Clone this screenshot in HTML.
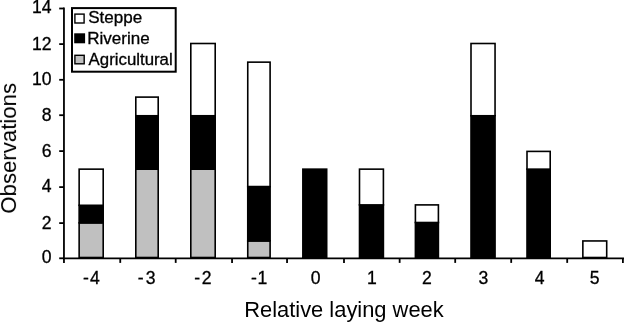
<!DOCTYPE html>
<html><head><meta charset="utf-8"><title>Observations by relative laying week</title>
<style>
html,body{margin:0;padding:0;background:#fff;}
svg{display:block;}
text{font-family:"Liberation Sans",Arial,sans-serif;fill:#000;stroke:#000;stroke-width:0.3;}
</style></head><body>
<svg width="624" height="322" viewBox="0 0 624 322">
<defs><filter id="soft" x="0" y="0" width="624" height="322" filterUnits="userSpaceOnUse"><feGaussianBlur stdDeviation="0.35"/></filter><filter id="soft2" x="0" y="0" width="624" height="322" filterUnits="userSpaceOnUse"><feGaussianBlur stdDeviation="0.25"/></filter></defs>
<rect width="624" height="322" fill="#fff"/>
<g filter="url(#soft)">
<rect x="-5" y="-5" width="634" height="332" fill="#fff"/>
<rect x="79.15" y="222.85" width="24.05" height="34.65" fill="#c0c0c0" stroke="#000" stroke-width="1.6"/>
<rect x="79.15" y="205.30" width="24.05" height="17.55" fill="#000" stroke="#000" stroke-width="1.6"/>
<rect x="79.15" y="169.15" width="24.05" height="36.15" fill="#fff" stroke="#000" stroke-width="1.6"/>
<rect x="135.80" y="169.15" width="22.40" height="88.35" fill="#c0c0c0" stroke="#000" stroke-width="1.6"/>
<rect x="135.80" y="115.75" width="22.40" height="53.40" fill="#000" stroke="#000" stroke-width="1.6"/>
<rect x="135.80" y="97.10" width="22.40" height="18.65" fill="#fff" stroke="#000" stroke-width="1.6"/>
<rect x="190.80" y="169.15" width="24.40" height="88.35" fill="#c0c0c0" stroke="#000" stroke-width="1.6"/>
<rect x="190.80" y="115.75" width="24.40" height="53.40" fill="#000" stroke="#000" stroke-width="1.6"/>
<rect x="190.80" y="43.50" width="24.40" height="72.25" fill="#fff" stroke="#000" stroke-width="1.6"/>
<rect x="247.75" y="240.95" width="22.35" height="16.55" fill="#c0c0c0" stroke="#000" stroke-width="1.6"/>
<rect x="247.75" y="186.55" width="22.35" height="54.40" fill="#000" stroke="#000" stroke-width="1.6"/>
<rect x="247.75" y="62.15" width="22.35" height="124.40" fill="#fff" stroke="#000" stroke-width="1.6"/>
<rect x="302.85" y="169.15" width="23.85" height="88.35" fill="#000" stroke="#000" stroke-width="1.6"/>
<rect x="359.50" y="204.90" width="23.90" height="52.60" fill="#000" stroke="#000" stroke-width="1.6"/>
<rect x="359.50" y="169.15" width="23.90" height="35.75" fill="#fff" stroke="#000" stroke-width="1.6"/>
<rect x="415.40" y="222.50" width="23.00" height="35.00" fill="#000" stroke="#000" stroke-width="1.6"/>
<rect x="415.40" y="204.90" width="23.00" height="17.60" fill="#fff" stroke="#000" stroke-width="1.6"/>
<rect x="471.00" y="115.75" width="24.05" height="141.75" fill="#000" stroke="#000" stroke-width="1.6"/>
<rect x="471.00" y="43.50" width="24.05" height="72.25" fill="#fff" stroke="#000" stroke-width="1.6"/>
<rect x="527.00" y="169.15" width="23.20" height="88.35" fill="#000" stroke="#000" stroke-width="1.6"/>
<rect x="527.00" y="151.40" width="23.20" height="17.75" fill="#fff" stroke="#000" stroke-width="1.6"/>
<rect x="582.85" y="240.95" width="23.85" height="16.55" fill="#fff" stroke="#000" stroke-width="1.6"/>
<line x1="63.95" y1="7.6" x2="63.95" y2="259.20" stroke="#000" stroke-width="1.8"/>
<line x1="63.05" y1="258.3" x2="624" y2="258.3" stroke="#000" stroke-width="1.8"/>
<line x1="59.2" y1="258.30" x2="63.95" y2="258.30" stroke="#000" stroke-width="1.8"/>
<text transform="translate(51.50,263.40)" font-size="17.6" text-anchor="end">0</text>
<line x1="59.2" y1="223.10" x2="63.95" y2="223.10" stroke="#000" stroke-width="1.8"/>
<text transform="translate(51.50,229.00)" font-size="17.6" text-anchor="end">2</text>
<line x1="59.2" y1="187.10" x2="63.95" y2="187.10" stroke="#000" stroke-width="1.8"/>
<text transform="translate(51.50,192.40)" font-size="17.6" text-anchor="end">4</text>
<line x1="59.2" y1="151.10" x2="63.95" y2="151.10" stroke="#000" stroke-width="1.8"/>
<text transform="translate(51.50,156.60)" font-size="17.6" text-anchor="end">6</text>
<line x1="59.2" y1="115.20" x2="63.95" y2="115.20" stroke="#000" stroke-width="1.8"/>
<text transform="translate(51.50,120.95)" font-size="17.6" text-anchor="end">8</text>
<line x1="59.2" y1="79.80" x2="63.95" y2="79.80" stroke="#000" stroke-width="1.8"/>
<text transform="translate(51.50,85.20)" font-size="17.6" text-anchor="end">10</text>
<line x1="59.2" y1="44.10" x2="63.95" y2="44.10" stroke="#000" stroke-width="1.8"/>
<text transform="translate(51.50,49.50)" font-size="17.6" text-anchor="end">12</text>
<line x1="59.2" y1="8.50" x2="63.95" y2="8.50" stroke="#000" stroke-width="1.8"/>
<text transform="translate(51.50,13.40)" font-size="17.6" text-anchor="end">14</text>
<line x1="63.95" y1="258.3" x2="63.95" y2="262.90" stroke="#000" stroke-width="1.8"/>
<line x1="120.25" y1="258.3" x2="120.25" y2="262.90" stroke="#000" stroke-width="1.8"/>
<line x1="175.70" y1="258.3" x2="175.70" y2="262.90" stroke="#000" stroke-width="1.8"/>
<line x1="232.05" y1="258.3" x2="232.05" y2="262.90" stroke="#000" stroke-width="1.8"/>
<line x1="287.05" y1="258.3" x2="287.05" y2="262.90" stroke="#000" stroke-width="1.8"/>
<line x1="344.00" y1="258.3" x2="344.00" y2="262.90" stroke="#000" stroke-width="1.8"/>
<line x1="399.65" y1="258.3" x2="399.65" y2="262.90" stroke="#000" stroke-width="1.8"/>
<line x1="455.20" y1="258.3" x2="455.20" y2="262.90" stroke="#000" stroke-width="1.8"/>
<line x1="511.20" y1="258.3" x2="511.20" y2="262.90" stroke="#000" stroke-width="1.8"/>
<line x1="567.20" y1="258.3" x2="567.20" y2="262.90" stroke="#000" stroke-width="1.8"/>
<line x1="622.90" y1="258.3" x2="622.90" y2="262.90" stroke="#000" stroke-width="1.8"/>
<text transform="translate(99.75,284.30)" font-size="17.6" text-anchor="end">-<tspan dx="1.2">4</tspan></text>
<text transform="translate(155.60,284.30)" font-size="17.6" text-anchor="end">-<tspan dx="2.3">3</tspan></text>
<text transform="translate(211.45,284.30)" font-size="17.6" text-anchor="end">-<tspan dx="1.5">2</tspan></text>
<text transform="translate(267.30,284.30)" font-size="17.6" text-anchor="end">-<tspan dx="0.6">1</tspan></text>
<text transform="translate(315.53,284.30)" font-size="17.6" text-anchor="middle">0</text>
<text transform="translate(371.98,284.30)" font-size="17.6" text-anchor="middle">1</text>
<text transform="translate(426.83,284.30)" font-size="17.6" text-anchor="middle">2</text>
<text transform="translate(483.27,284.30)" font-size="17.6" text-anchor="middle">3</text>
<text transform="translate(539.52,284.30)" font-size="17.6" text-anchor="middle">4</text>
<text transform="translate(594.58,284.30)" font-size="17.6" text-anchor="middle">5</text>
<rect x="72" y="8.1" width="103.7" height="63.6" fill="#fff" stroke="#000" stroke-width="2"/>
<rect x="74.9" y="14.1" width="9.2" height="8.9" fill="#fff" stroke="#000" stroke-width="1.4"/>
<text transform="translate(88.15,22.60) scale(1.058,1)" font-size="16.1" text-anchor="start">Steppe</text>
<rect x="74.9" y="34.0" width="9.5" height="8.6" fill="#000" stroke="#000" stroke-width="1.4"/>
<text transform="translate(87.20,43.70) scale(1.058,1)" font-size="16.1" text-anchor="start">Riverine</text>
<rect x="74.9" y="55.3" width="9.3" height="8.5" fill="#c0c0c0" stroke="#000" stroke-width="1.4"/>
<text transform="translate(88.60,65.40) scale(1.045,1)" font-size="16.1" text-anchor="start">Agricultural</text>
</g>
<g filter="url(#soft2)">
<text transform="translate(343.95,317.10) scale(1.0186,1)" font-size="21.5" text-anchor="middle" style="stroke-width:0">Relative laying week</text>
<text transform="translate(16.05,148.25) rotate(-90) scale(1.042,1)" font-size="21.3" text-anchor="middle" style="stroke-width:0">Observations</text>
</g>
</svg></body></html>
